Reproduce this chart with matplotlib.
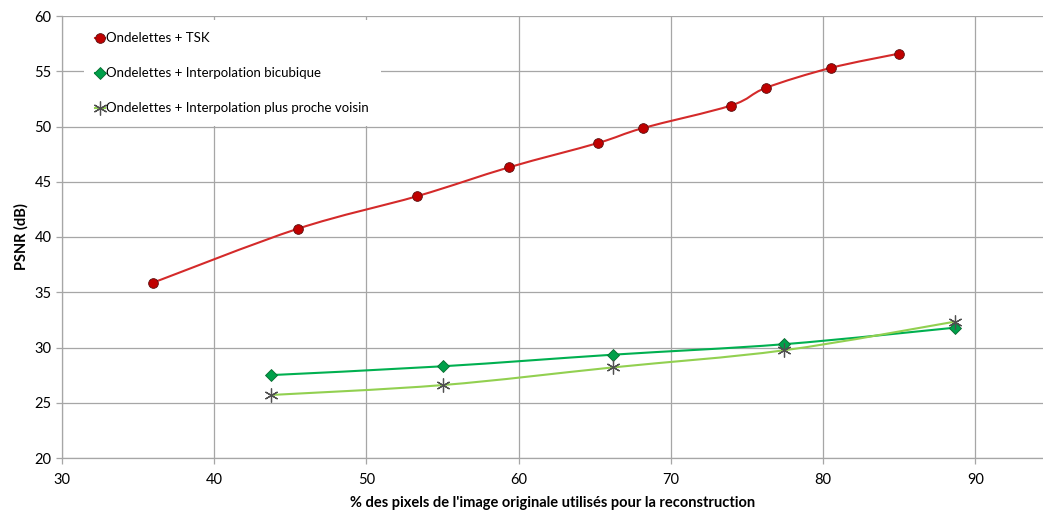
import numpy as np
import matplotlib
matplotlib.use("Agg")
import matplotlib.pyplot as plt
from matplotlib.path import Path
from matplotlib.patches import PathPatch

plt.rcParams['font.family'] = ['Lato', 'DejaVu Sans']

# data
x_tsk = [35.95, 45.5, 53.35, 59.35, 65.2, 68.15, 73.95, 76.25, 80.5, 85.0]
y_tsk = [35.85, 40.75, 43.7, 46.3, 48.5, 49.85, 51.9, 53.5, 55.3, 56.6]

x_bic = [43.7, 55.0, 66.2, 77.45, 88.7]
y_bic = [27.5, 28.3, 29.35, 30.3, 31.8]

x_ppv = [43.7, 55.0, 66.2, 77.45, 88.7]
y_ppv = [25.7, 26.6, 28.2, 29.75, 32.35]

lab_tsk = "Ondelettes + TSK"
lab_bic = "Ondelettes + Interpolation bicubique"
lab_ppv = "Ondelettes + Interpolation plus proche voisin"


def smooth_path(xs, ys, t=1/6.):
    # excel-like smoothed line: bezier segments through the points
    p = np.column_stack([xs, ys])
    verts = [p[0]]
    codes = [Path.MOVETO]
    n = len(p)
    for i in range(n - 1):
        p0 = p[i - 1] if i > 0 else p[i]
        p3 = p[i + 2] if i + 2 < n else p[i + 1]
        c1 = p[i] + (p[i + 1] - p0) * t
        c2 = p[i + 1] - (p3 - p[i]) * t
        verts += [c1, c2, p[i + 1]]
        codes += [Path.CURVE4] * 3
    return Path(verts, codes)


fig = plt.figure(figsize=(10.43, 5.12), dpi=100)
ax = fig.add_axes([62 / 1043, 1 - 458 / 512, 1 - 62 / 1043, (458 - 16) / 512])

red_line, red_mk = '#d42a2a', '#c00000'
grn_line, grn_mk = '#00b050', '#00a04a'
lgt_line = '#92d050'

ax.add_patch(PathPatch(smooth_path(x_tsk, y_tsk), fill=False, ec=red_line, lw=1.5, zorder=3))
ax.add_patch(PathPatch(smooth_path(x_bic, y_bic), fill=False, ec=grn_line, lw=1.5, zorder=3))
ax.add_patch(PathPatch(smooth_path(x_ppv, y_ppv), fill=False, ec=lgt_line, lw=1.5, zorder=3))

ax.plot(x_tsk, y_tsk, 'o', color=red_mk, mec='#5a1010', mew=0.6, ms=7, zorder=4)
ax.plot(x_bic, y_bic, 'D', color=grn_mk, mec='#0a6a30', mew=0.6, ms=6, zorder=4)
ax.plot(x_ppv, y_ppv, marker=(6, 2, 0), ls='none', color='#505050', mew=0.9, ms=10, zorder=4)

# legend proxies
h1, = ax.plot([], [], 'o-', color=red_line, mfc=red_mk, mec='#5a1010', mew=0.6, ms=7)
h2, = ax.plot([], [], 'D-', color=grn_line, mfc=grn_mk, mec='#0a6a30', mew=0.6, ms=6)
h3, = ax.plot([], [], marker=(6, 2, 0), color=lgt_line, mec='#505050', mew=0.9, ms=10)
leg = ax.legend([h1, h2, h3], [lab_tsk, lab_bic, lab_ppv], loc='upper left',
                bbox_to_anchor=(0.022, 0.99), frameon=True, fancybox=False,
                edgecolor='white', facecolor='white', framealpha=1,
                handlelength=0.7, handletextpad=0.1, labelspacing=1.75,
                borderpad=0.9, borderaxespad=0, fontsize=9.5)
leg.set_zorder(5)
leg.get_frame().set_linewidth(0)

ax.set_xlim(30, 94.45)
ax.set_ylim(20, 60)
ax.set_xticks(np.arange(30, 95, 10))
ax.set_yticks(np.arange(20, 61, 5))
ax.grid(True, color='#a6a6a6', lw=0.9)
ax.set_axisbelow(True)
for s in ['top', 'right']:
    ax.spines[s].set_visible(False)
for s in ['left', 'bottom']:
    ax.spines[s].set_color('#a6a6a6')
    ax.spines[s].set_linewidth(0.9)
ax.tick_params(axis='both', colors='#a6a6a6', labelcolor='black', labelsize=10.5, length=4, width=0.9)
ax.tick_params(axis='x', pad=7)

ax.set_xlabel("% des pixels de l'image originale utilisés pour la reconstruction",
              fontsize=10.5, fontweight='bold', labelpad=6)
ax.set_ylabel("PSNR (dB)", fontsize=10.5, fontweight='bold', labelpad=4)

fig.savefig('out.png', dpi=100)
